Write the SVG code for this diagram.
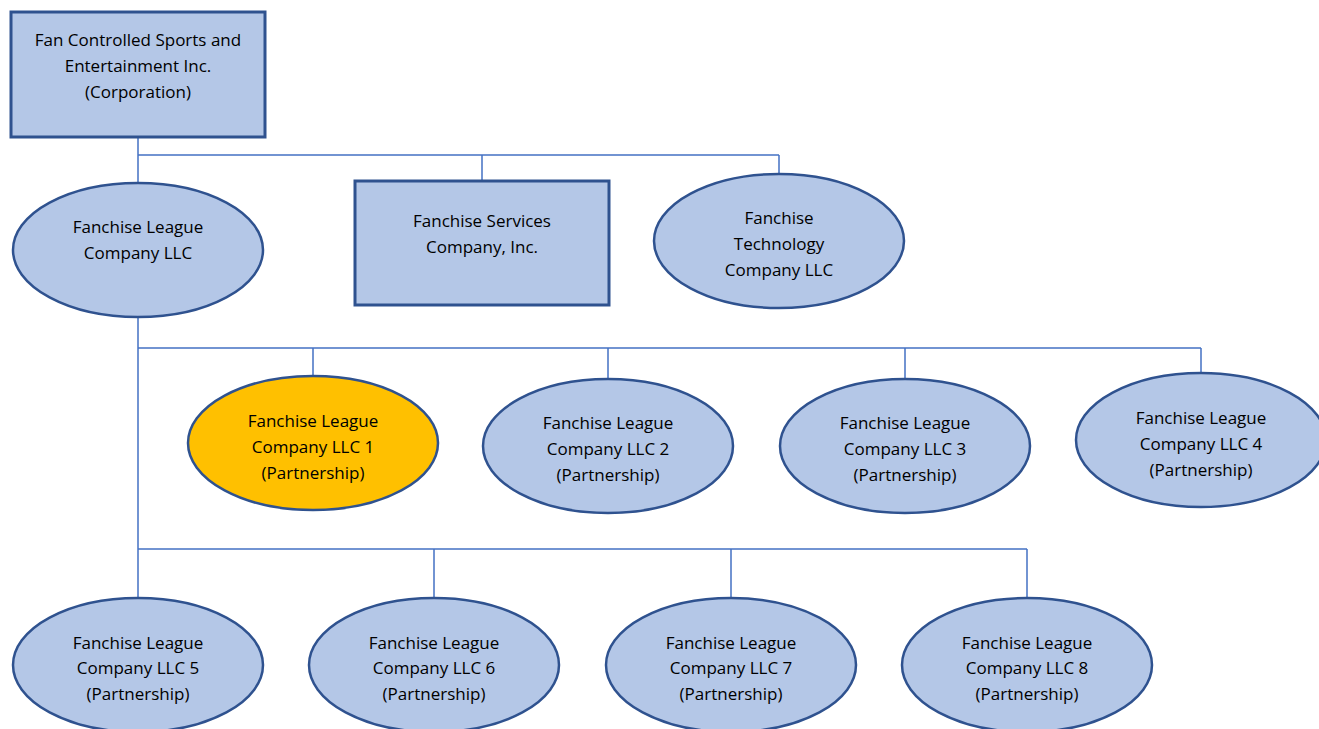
<svg xmlns="http://www.w3.org/2000/svg" width="1319" height="729" viewBox="0 0 1319 729">
<style>
.n{fill:#B4C7E7;stroke:#2F528F;stroke-width:2.5}
.r{fill:#B4C7E7;stroke:#2F528F;stroke-width:3}
.y{fill:#FFC000;stroke:#2F528F;stroke-width:2.5}
.c{fill:none;stroke:#4472C4;stroke-width:1.5}
text{font-family:"Open Sans","Liberation Sans",sans-serif;font-size:17px;fill:#000;text-anchor:middle;dominant-baseline:central}
</style>
<rect width="1319" height="729" fill="#fff"/>
<g id="connectors">
<path class="c" d="M138 137V183M138 155H779M482 155V181M779 155V174"/>
<path class="c" d="M138 317V549M138 348H1201M313 348V376M608 348V379M905 348V378M1201 348V373"/>
<path class="c" d="M138 549H1027M138 549V597M434 549V597M731 549V597M1027 549V597"/>
</g>
<g id="corp"><rect class="r" x="11" y="12" width="254" height="125"/>
<text x="138" y="39">Fan Controlled Sports and</text><text x="138" y="65">Entertainment Inc.</text><text x="138" y="91">(Corporation)</text></g>
<g id="league"><ellipse class="n" cx="138" cy="250" rx="125" ry="67"/>
<text x="138" y="226">Fanchise League</text><text x="138" y="252">Company LLC</text></g>
<g id="services"><rect class="r" x="355" y="181" width="254" height="124"/>
<text x="482" y="220">Fanchise Services</text><text x="482" y="246">Company, Inc.</text></g>
<g id="tech"><ellipse class="n" cx="779" cy="241" rx="125" ry="67"/>
<text x="779" y="217">Fanchise</text><text x="779" y="243">Technology</text><text x="779" y="269">Company LLC</text></g>
<g id="llc1"><ellipse class="y" cx="313" cy="443" rx="125" ry="67"/>
<text x="313" y="420">Fanchise League</text><text x="313" y="446">Company LLC 1</text><text x="313" y="472">(Partnership)</text></g>
<g id="llc2"><ellipse class="n" cx="608" cy="446" rx="125" ry="67"/>
<text x="608" y="422">Fanchise League</text><text x="608" y="448">Company LLC 2</text><text x="608" y="474">(Partnership)</text></g>
<g id="llc3"><ellipse class="n" cx="905" cy="446" rx="125" ry="67"/>
<text x="905" y="422">Fanchise League</text><text x="905" y="448">Company LLC 3</text><text x="905" y="474">(Partnership)</text></g>
<g id="llc4"><ellipse class="n" cx="1201" cy="440" rx="125" ry="67"/>
<text x="1201" y="417">Fanchise League</text><text x="1201" y="443">Company LLC 4</text><text x="1201" y="469">(Partnership)</text></g>
<g id="llc5"><ellipse class="n" cx="138" cy="665" rx="125" ry="67"/>
<text x="138" y="642">Fanchise League</text><text x="138" y="667">Company LLC 5</text><text x="138" y="693">(Partnership)</text></g>
<g id="llc6"><ellipse class="n" cx="434" cy="665" rx="125" ry="67"/>
<text x="434" y="642">Fanchise League</text><text x="434" y="667">Company LLC 6</text><text x="434" y="693">(Partnership)</text></g>
<g id="llc7"><ellipse class="n" cx="731" cy="665" rx="125" ry="67"/>
<text x="731" y="642">Fanchise League</text><text x="731" y="667">Company LLC 7</text><text x="731" y="693">(Partnership)</text></g>
<g id="llc8"><ellipse class="n" cx="1027" cy="665" rx="125" ry="67"/>
<text x="1027" y="642">Fanchise League</text><text x="1027" y="667">Company LLC 8</text><text x="1027" y="693">(Partnership)</text></g>
</svg>
